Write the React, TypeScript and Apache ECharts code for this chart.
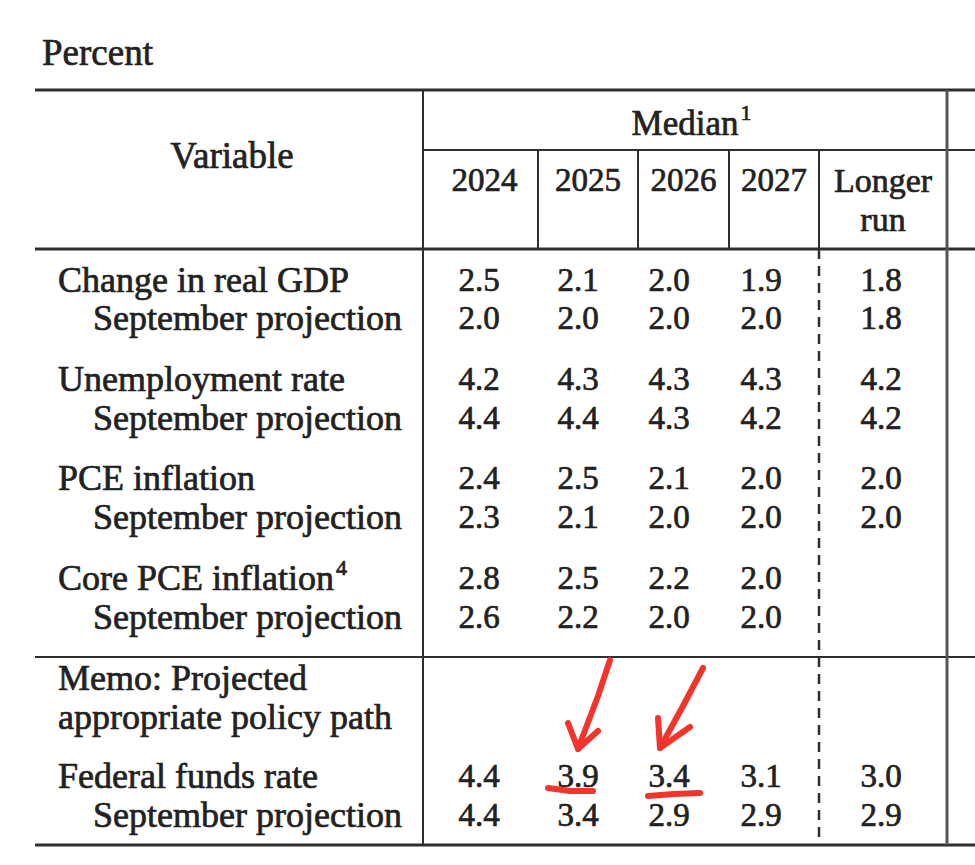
import React, { useEffect, useRef } from "react";
import * as echarts from "echarts";

// ---- Data ----
const title = "Percent";
const headerVariable = "Variable";
const headerMedian = "Median";
const headerMedianNote = "1";
const columns = ["2024", "2025", "2026", "2027", "Longer run"];
const rowLabels = [
  "Change in real GDP",
  "September projection",
  "Unemployment rate",
  "September projection",
  "PCE inflation",
  "September projection",
  "Core PCE inflation",
  "September projection",
  "Memo: Projected",
  "appropriate policy path",
  "Federal funds rate",
  "September projection",
];
const rowNotes = ["", "", "", "", "", "", "4", "", "", "", "", ""];
const rowIndented = [false, true, false, true, false, true, false, true, false, false, false, true];
const v2024 = ["2.5", "2.0", "4.2", "4.4", "2.4", "2.3", "2.8", "2.6", "", "", "4.4", "4.4"];
const v2025 = ["2.1", "2.0", "4.3", "4.4", "2.5", "2.1", "2.5", "2.2", "", "", "3.9", "3.4"];
const v2026 = ["2.0", "2.0", "4.3", "4.3", "2.1", "2.0", "2.2", "2.0", "", "", "3.4", "2.9"];
const v2027 = ["1.9", "2.0", "4.3", "4.2", "2.0", "2.0", "2.0", "2.0", "", "", "3.1", "2.9"];
const vLonger = ["1.8", "1.8", "4.2", "4.2", "2.0", "2.0", "", "", "", "", "3.0", "2.9"];
const highlighted = [
  { row: 10, col: 1 },
  { row: 10, col: 2 },
];

// ---- Layout ----
const FONT = "'Liberation Serif', 'Times New Roman', serif";
const INK = "#222222";
const LINE = "#2e2e2e";
const RED = "#f2342a";
const rowY = [280, 318, 379, 418, 478, 517, 578, 617, 678, 717, 776, 815];
const valueX = [479, 578, 669, 761, 881];
const colBounds = [423, 538, 638, 729, 819, 947];
const LEFT = 35;
const RIGHT = 975;

function measure(text: string, size: number) {
  const c = document.createElement("canvas").getContext("2d");
  if (!c) return text.length * size * 0.45;
  c.font = `${size}px ${FONT}`;
  return c.measureText(text).width;
}

function txt(text: string, x: number, y: number, size: number, align = "left", fill = INK) {
  return {
    type: "text",
    x,
    y,
    silent: true,
    style: {
      text,
      fontSize: size,
      fontFamily: FONT,
      fill,
      stroke: fill,
      lineWidth: 0.7,
      align,
      verticalAlign: "middle",
      textAlign: align,
      textVerticalAlign: "middle",
    },
  };
}

function hline(x1: number, x2: number, y: number, w: number, color = LINE) {
  return { type: "line", silent: true, shape: { x1, y1: y, x2, y2: y }, style: { stroke: color, lineWidth: w } };
}
function vline(x: number, y1: number, y2: number, w: number, dash?: number[], color = LINE) {
  return {
    type: "line",
    silent: true,
    shape: { x1: x, y1, x2: x, y2 },
    style: { stroke: color, lineWidth: w, lineDash: dash },
  };
}

export default function App() {
  const ref = useRef<HTMLDivElement>(null);
  useEffect(() => {
    document.body.style.margin = "0";
    if (!ref.current) return;
    const chart = echarts.init(ref.current, null, { renderer: "svg" });
    const els: any[] = [];

    // Title
    els.push(txt(title, 42, 52, 37));

    // Rules
    els.push(hline(LEFT, RIGHT, 90, 3));
    els.push(hline(colBounds[0], RIGHT, 150, 2));
    els.push(hline(LEFT, RIGHT, 249, 3));
    els.push(hline(LEFT, RIGHT, 657, 2));
    els.push(hline(LEFT, RIGHT, 845, 3));
    els.push(vline(colBounds[0], 90, 845, 2));
    els.push(vline(colBounds[5], 90, 845, 3, undefined, "#555"));
    for (let i = 1; i < 5; i++) els.push(vline(colBounds[i], 150, 249, 2));
    els.push(vline(colBounds[4], 249, 845, 2.5, [10, 7]));

    // Header
    els.push(txt(headerVariable, 232, 155, 37, "center"));
    const medSize = 35;
    const medW = measure(headerMedian, medSize);
    const medCx = (colBounds[0] + colBounds[5]) / 2;
    els.push(txt(headerMedian, medCx, 123, medSize, "center"));
    els.push(txt(headerMedianNote, medCx + medW / 2 + 2, 112, 22, "left"));
    const yearSize = 33;
    columns.forEach((c, i) => {
      const cx = (colBounds[i] + colBounds[i + 1]) / 2 + (i === 0 ? 4 : 0);
      if (c === "Longer run") {
        els.push(txt("Longer", cx, 180, 34, "center"));
        els.push(txt("run", cx, 219, 34, "center"));
      } else {
        els.push(txt(c, cx, 180, yearSize, "center"));
      }
    });

    // Body
    const labelSize = 36;
    rowLabels.forEach((lab, r) => {
      const x = rowIndented[r] ? 93 : 58;
      els.push(txt(lab, x, rowY[r], labelSize, "left"));
      if (rowNotes[r]) {
        const w = measure(lab, labelSize);
        els.push(txt(rowNotes[r], x + w + 2, rowY[r] - 11, 22, "left"));
      }
    });
    const cols = [v2024, v2025, v2026, v2027, vLonger];
    cols.forEach((arr, ci) => {
      arr.forEach((v, r) => {
        if (v) els.push(txt(v, valueX[ci], rowY[r], 33, "center"));
      });
    });

    // Red hand-drawn highlights
    highlighted.forEach(({ row, col }, k) => {
      const cx = valueX[col];
      const cy = rowY[row];
      const red = { stroke: RED, lineWidth: 6, lineCap: "round", lineJoin: "round", fill: null };
      if (k === 0) {
        els.push({ type: "polyline", silent: true, shape: { points: [[cx - 30, cy + 12], [cx - 8, cy + 15], [cx + 15, cy + 15]] }, style: red });
        els.push({ type: "polyline", silent: true, shape: { points: [[cx + 32, cy - 116], [cx + 20, cy - 80], [cx, cy - 27]] }, style: red });
        els.push({ type: "polyline", silent: true, shape: { points: [[cx - 10, cy - 53], [cx, cy - 27], [cx + 20, cy - 45]] }, style: red });
      } else {
        els.push({ type: "polyline", silent: true, shape: { points: [[cx - 21, cy + 20], [cx + 5, cy + 18], [cx + 31, cy + 17]] }, style: red });
        els.push({ type: "polyline", silent: true, shape: { points: [[cx + 34, cy - 108], [cx + 14, cy - 70], [cx - 9, cy - 28]] }, style: red });
        els.push({ type: "polyline", silent: true, shape: { points: [[cx - 11, cy - 58], [cx - 9, cy - 28], [cx + 21, cy - 49]] }, style: red });
      }
    });

    chart.setOption({
      animation: false,
      backgroundColor: "#ffffff",
      graphic: { elements: els },
    });
    return () => chart.dispose();
  }, []);
  return <div ref={ref} style={{ position: "fixed", left: 0, top: 0, width: 975, height: 865 }} />;
}
